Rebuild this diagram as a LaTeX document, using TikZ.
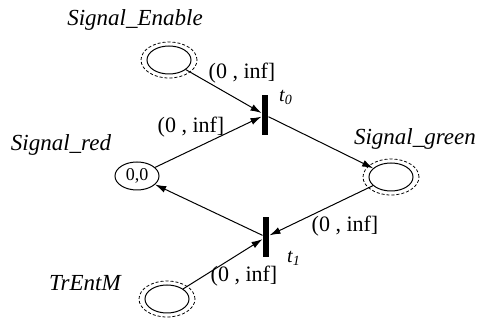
\documentclass[tikz,border=0pt]{standalone}
\usepackage{fontspec}
\setmainfont{Liberation Serif}
\usetikzlibrary{shapes.geometric,arrows.meta}

\tikzset{
    place/.style={shape=ellipse,draw=black,line width=0.5pt,minimum width=22pt,minimum height=14pt,inner sep=0pt,font=\fontsize{9}{10}\selectfont},
    ring/.style={draw=black,dashed,line width=0.4pt,dash pattern=on 1.5pt off 1pt},
    trans/.style={shape=rectangle,fill=black,minimum width=3pt,minimum height=20pt,inner sep=0pt},
    pname/.style={font=\fontsize{11.5}{13}\selectfont\itshape},
    tname/.style={font=\fontsize{10}{12}\selectfont\itshape},
    arclbl/.style={font=\fontsize{11}{13}\selectfont}
}

\begin{document}
\begin{tikzpicture}[x=0.5pt,y=-0.5pt,>={Latex[length=5.5pt,width=3.5pt]},line width=0.5pt]
    \useasboundingbox (0,0) rectangle (478,320);
    \node[place] (se) at (169,60) {};
    \node[place] (sr) at (137,176) {0,0};
    \node[place] (sg) at (391,177) {};
    \node[place] (tm) at (167,299) {};
    \node[trans] (t0) at (265,115) {};
    \node[trans] (t1) at (266,237) {};
    % marked places get the dashed ring
    \foreach \p in {se,sg,tm}
        \draw[ring] (\p) ellipse [x radius=14pt, y radius=9pt];
    \node[pname] (nse) at (135,20) {Signal\_Enable};
    \node[pname] (nsr) at (61,145) {Signal\_red};
    \node[pname] (nsg) at (415,139) {Signal\_green};
    \node[pname] (ntm) at (85,283) {TrEntM};
    \node[tname] (nt0) at (286,97) {t\textsubscript{0}};
    \node[tname] (nt1) at (294,258) {t\textsubscript{1}};
    \path [->] (se) edge (t0);
    \path [->] (sr) edge (t0);
    \path [->] (t0) edge (sg);
    \path [->] (sg) edge (t1);
    \path [->] (t1) edge (sr);
    \path [->] (tm) edge (t1);
    \node[arclbl] (a0) at (242,73) {(0 , inf]};
    \node[arclbl] (a1) at (191,127) {(0 , inf]};
    \node[arclbl] (a2) at (345,226) {(0 , inf]};
    \node[arclbl] (a3) at (244,276) {(0 , inf]};
\end{tikzpicture}
\end{document}
